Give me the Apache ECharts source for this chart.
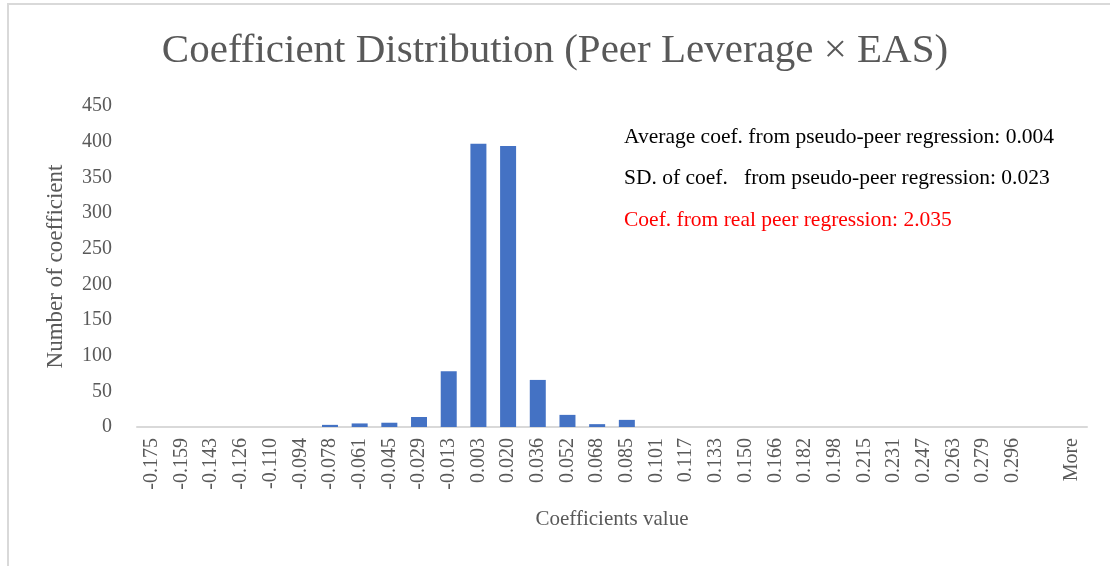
<!DOCTYPE html>
<html>
<head>
<meta charset="utf-8">
<script src="https://cdn.jsdelivr.net/npm/echarts@6/dist/echarts.min.js"></script>
<style>
  html, body { margin: 0; padding: 0; background: #fff; }
  #chart { width: 1110px; height: 566px; }
</style>
</head>
<body>
<div id="chart"></div>
<script>
const binLabels = [
  "-0.175", "-0.159", "-0.143", "-0.126", "-0.110", "-0.094", "-0.078", "-0.061",
  "-0.045", "-0.029", "-0.013", "0.003", "0.020", "0.036", "0.052", "0.068",
  "0.085", "0.101", "0.117", "0.133", "0.150", "0.166", "0.182", "0.198",
  "0.215", "0.231", "0.247", "0.263", "0.279", "0.296", "", "More",
];
const binCounts = [
  0, 0, 0, 0, 0, 0, 3, 5,
  6, 14, 78, 397, 394, 66, 17, 4,
  10, 0, 0, 0, 0, 0, 0, 0,
  0, 0, 0, 0, 0, 0, 0, 0,
];
const yTicks = { min: 0, max: 450, interval: 50 };
const notes = [
  { text: "Average coef. from pseudo-peer regression: 0.004", color: "#000000" },
  { text: "SD. of coef.   from pseudo-peer regression: 0.023", color: "#000000" },
  { text: "Coef. from real peer regression: 2.035", color: "#ff0000" },
];

const serif = "'Liberation Serif', 'DejaVu Serif', serif";
const gray = "#595959";

const chart = echarts.init(document.getElementById("chart"));

chart.setOption({
  backgroundColor: "#ffffff",
  animation: false,
  title: {
    text: "Coefficient Distribution (Peer Leverage \u00d7 EAS)",
    left: "center",
    top: 26,
    textStyle: { fontFamily: serif, fontSize: 41, fontWeight: "normal", color: gray },
  },
  grid: { left: 137, right: 23, top: 106, bottom: 139 },
  xAxis: {
    type: "category",
    data: binLabels,
    name: "Coefficients value",
    nameLocation: "middle",
    nameGap: 82,
    nameTextStyle: { fontFamily: serif, fontSize: 21, color: gray },
    axisLine: { lineStyle: { color: "#d9d9d9", width: 2 } },
    axisTick: { show: false },
    axisLabel: {
      interval: 0,
      rotate: 90,
      fontFamily: serif,
      fontSize: 20,
      color: gray,
      margin: 11,
    },
  },
  yAxis: {
    type: "value",
    min: yTicks.min,
    max: yTicks.max,
    interval: yTicks.interval,
    name: "Number of coefficient",
    nameLocation: "middle",
    nameGap: 70,
    nameTextStyle: { fontFamily: serif, fontSize: 23, color: gray },
    axisLine: { show: false },
    axisTick: { show: false },
    splitLine: { show: false },
    axisLabel: { fontFamily: serif, fontSize: 20, color: gray, margin: 25 },
  },
  series: [
    {
      type: "bar",
      data: binCounts,
      barWidth: 16,
      itemStyle: { color: "#4472c4" },
    },
  ],
  graphic: [
    {
      type: "rect",
      shape: { x: 8, y: 4, width: 1300, height: 800 },
      style: { fill: "none", stroke: "#d9d9d9", lineWidth: 2 },
      silent: true,
    },
    ...notes.map((note, i) => ({
      type: "text",
      left: 624,
      top: 126 + i * 41.5,
      style: { text: note.text, fill: note.color, font: `21.5px ${serif}` },
    })),
  ],
});
</script>
</body>
</html>
